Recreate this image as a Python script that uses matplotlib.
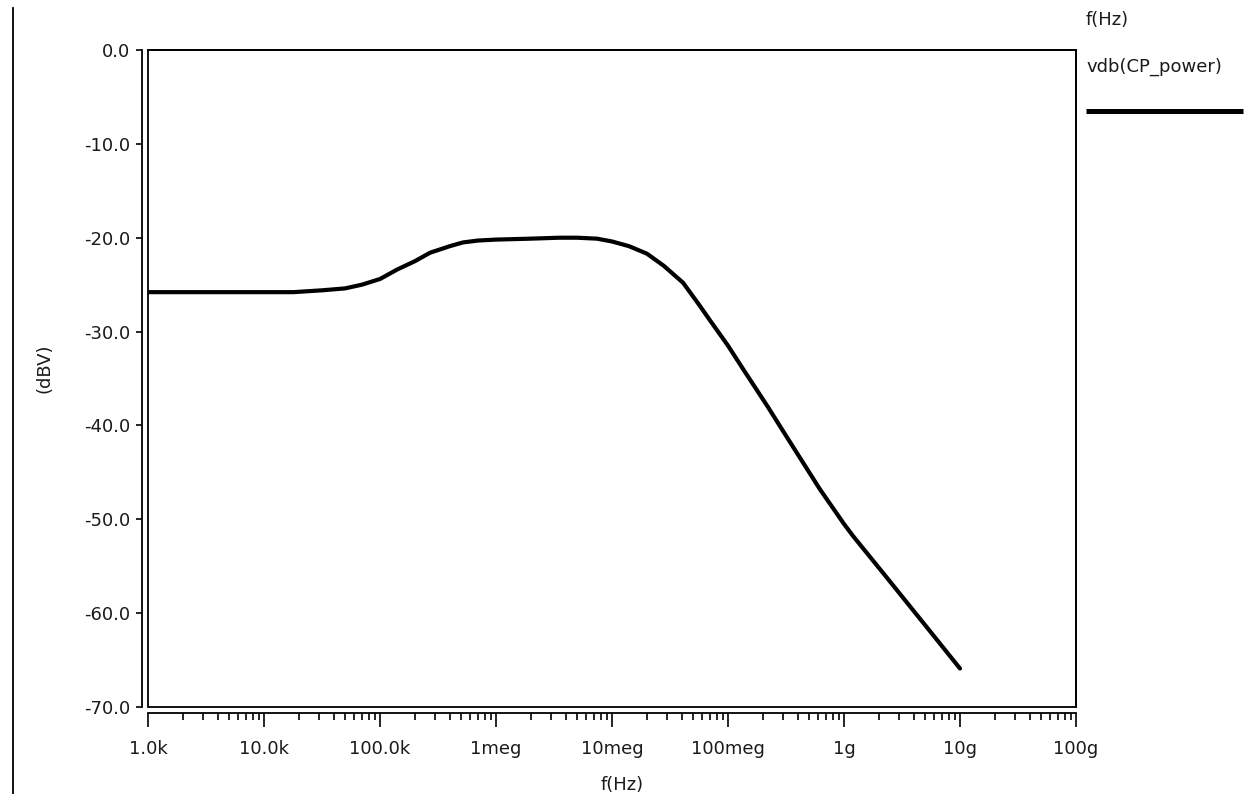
import matplotlib
matplotlib.use("Agg")
import matplotlib.pyplot as plt
from matplotlib.patches import Rectangle
from matplotlib.lines import Line2D
from matplotlib.ticker import FixedLocator, LogLocator, NullFormatter

# AC sweep result: frequency (Hz) and vdb(CP_power) (dBV)
freq_hz = [1e3, 3e3, 1e4, 1.8e4, 3.2e4, 5e4, 7e4, 1e5, 1.4e5, 2e5, 2.7e5,
           4e5, 5.2e5, 7e5, 1e6, 2e6, 3.5e6, 5e6, 7.4e6, 1e7, 1.4e7, 2e7,
           2.8e7, 4.1e7, 5.6e7, 6.9e7, 1e8, 1.35e8, 2.2e8, 3.2e8, 6.2e8,
           1e9, 1.2e9, 2.3e9, 4.8e9, 1e10]
vdb_cp_power = [-25.8, -25.8, -25.8, -25.8, -25.6, -25.4, -25.0, -24.4,
                -23.4, -22.5, -21.6, -20.9, -20.5, -20.3, -20.2, -20.1,
                -20.0, -20.0, -20.1, -20.4, -20.9, -21.7, -23.0, -24.8,
                -27.1, -28.7, -31.5, -34.0, -38.0, -41.2, -46.8, -50.5,
                -51.8, -56.1, -61.0, -65.9]

x_tick_values = [1e3, 1e4, 1e5, 1e6, 1e7, 1e8, 1e9, 1e10, 1e11]
x_tick_labels = ["1.0k", "10.0k", "100.0k", "1meg", "10meg", "100meg",
                 "1g", "10g", "100g"]
y_tick_values = [0, -10, -20, -30, -40, -50, -60, -70]
y_tick_labels = ["0.0", "-10.0", "-20.0", "-30.0", "-40.0", "-50.0",
                 "-60.0", "-70.0"]

plt.rcParams["font.family"] = ["DejaVu Sans"]
text_color = "#1a1a1a"
fs = 13

fig = plt.figure(figsize=(12.54, 7.94), dpi=100)
fig.patch.set_facecolor("white")

W, H = 1254.0, 794.0
ax = fig.add_axes([148 / W, 1 - 707 / H, 928 / W, 657 / H])

ax.plot(freq_hz, vdb_cp_power, color="black", linewidth=3.0,
        solid_capstyle="round", solid_joinstyle="round")

ax.set_xscale("log")
ax.set_xlim(1e3, 1e11)
ax.set_ylim(-70, 0)

# Detached axis lines with outward ticks, the plot box drawn separately
for side in ("top", "right"):
    ax.spines[side].set_visible(True)
    ax.spines[side].set_linewidth(1.3)
ax.spines["left"].set_position(("outward", 4))
ax.spines["bottom"].set_position(("outward", 4.5))
ax.spines["left"].set_linewidth(1.3)
ax.spines["bottom"].set_linewidth(1.3)
ax.add_patch(Rectangle((0, 0), 1, 1, transform=ax.transAxes, fill=False,
                       edgecolor="black", linewidth=1.3, clip_on=False))

ax.xaxis.set_major_locator(FixedLocator(x_tick_values))
ax.set_xticklabels(x_tick_labels)
ax.xaxis.set_minor_locator(LogLocator(base=10, subs=range(2, 10), numticks=20))
ax.xaxis.set_minor_formatter(NullFormatter())
ax.set_yticks(y_tick_values)
ax.set_yticklabels(y_tick_labels)

ax.tick_params(axis="x", which="major", direction="out", length=10, width=1.2,
               pad=9, labelsize=fs, labelcolor=text_color)
ax.tick_params(axis="x", which="minor", direction="out", length=5, width=1.2)
ax.tick_params(axis="y", which="major", direction="out", length=4.5, width=1.2,
               pad=4.5, labelsize=fs, labelcolor=text_color)
ax.tick_params(axis="y", which="minor", left=False)

ax.set_xlabel("f(Hz)", fontsize=fs, color=text_color)
ax.set_ylabel("(dBV)", fontsize=fs, color=text_color)
ax.yaxis.set_label_coords(-0.111, 0.515)
ax.xaxis.set_label_coords(0.511, -0.119)
ax.xaxis.label.set_va("center")
ax.yaxis.label.set_va("center")

# Legend column on the right
fig.text(1086 / W, 1 - 20 / H, "f(Hz)", fontsize=fs, color=text_color,
         ha="left", va="center")
fig.text(1086 / W, 1 - 67 / H, "vdb(CP_power)", fontsize=fs, color=text_color,
         ha="left", va="center")
fig.add_artist(Line2D([1086 / W, 1243 / W], [1 - 111 / H, 1 - 111 / H],
                      transform=fig.transFigure, color="black", linewidth=3.6,
                      solid_capstyle="butt"))

# Page margin rule at the far left
fig.add_artist(Line2D([13 / W, 13 / W], [0, 1 - 8 / H],
                      transform=fig.transFigure, color="black", linewidth=1.3))

fig.savefig("out.png", dpi=100, facecolor="white")
